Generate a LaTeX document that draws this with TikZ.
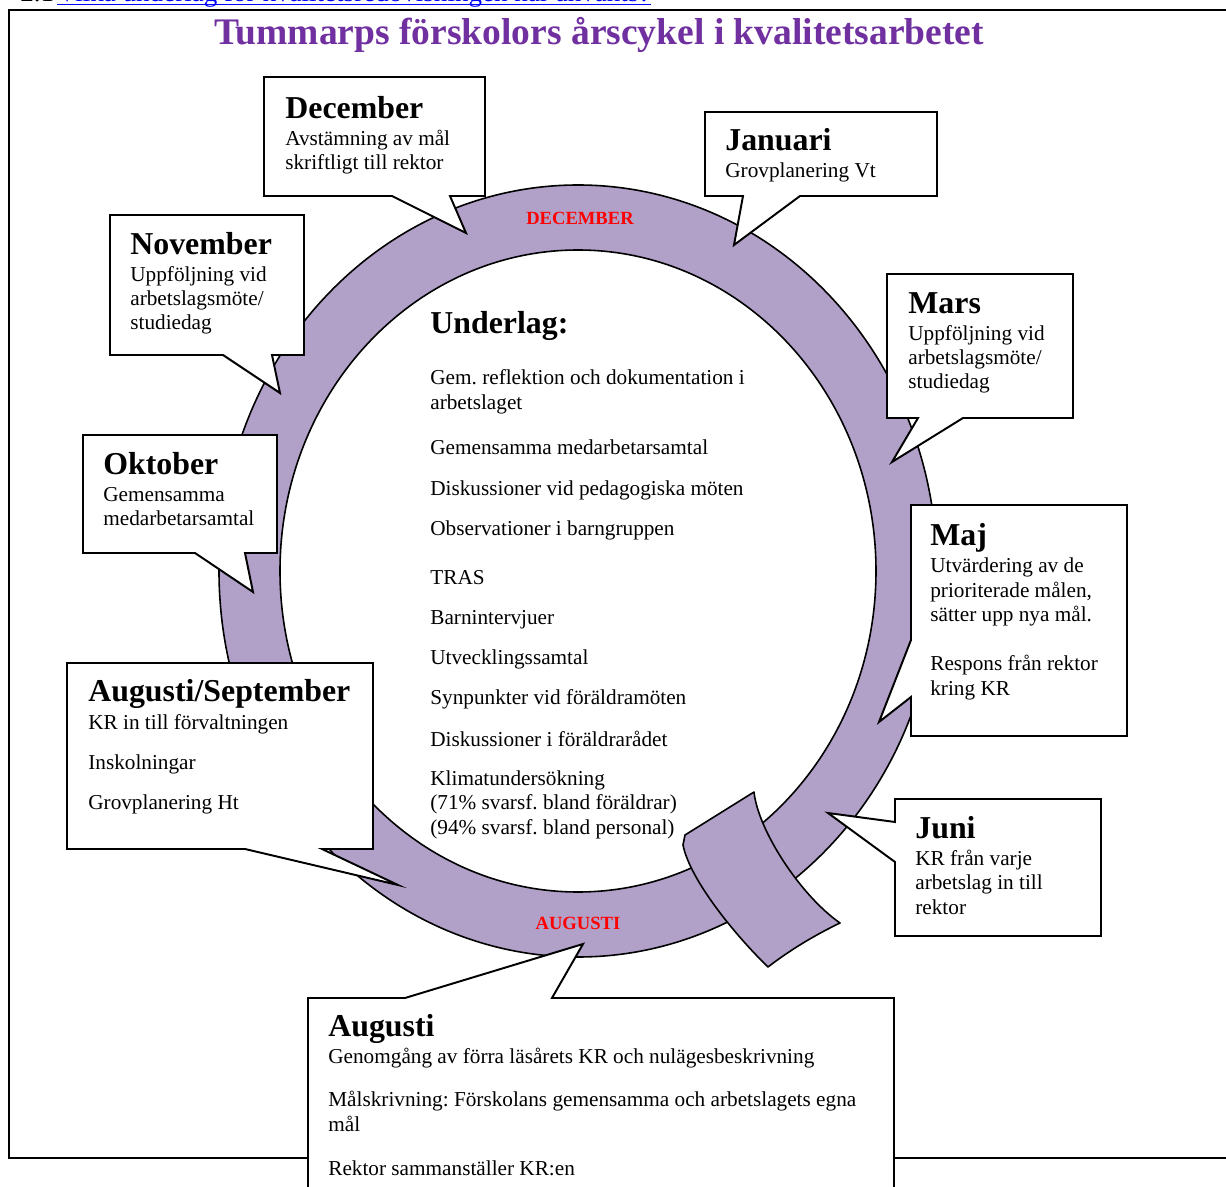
\documentclass[tikz,border=0pt]{standalone}
\usepackage{fontspec}
\setmainfont{Liberation Serif}
\frenchspacing
\definecolor{ringlila}{RGB}{177,160,199}
\definecolor{rubrik}{RGB}{112,48,160}
\definecolor{lank}{RGB}{0,0,255}
\tikzset{
  bubble/.style={draw=black, fill=white, line width=1.1pt, line join=miter},
  mtext/.style={anchor=base west, align=left, inner sep=0pt, font=\fontsize{12}{13.8}\selectfont},
  ringlabel/.style={anchor=base, inner sep=0pt, text=red, font=\fontsize{10.5}{12}\selectfont\bfseries},
}
\newcommand{\mhead}[1]{{\fontsize{18}{20}\selectfont\bfseries #1}}

\begin{document}
\begin{tikzpicture}[x=0.565pt, y=-0.565pt]
	\useasboundingbox (0,0) rectangle (1226,1187);
	% cut heading above the frame
	\node (num)  at (20,2) [anchor=base west, inner sep=0pt, font=\fontsize{15.3}{18}\selectfont] {2.1};
	\node (link) at (57,2) [anchor=base west, inner sep=0pt, text=lank, font=\fontsize{15.3}{18}\selectfont] {Vilka underlag för kvalitetsredovisningen har använts?};
	\draw[lank, line width=0.6pt] ([yshift=-1.6pt]link.base west) -- ([yshift=-1.6pt]link.base east);
	\draw[line width=1.1pt] (9,10) rectangle (1240,1158);

	% the year ring
	\fill[ringlila, even odd rule] (578,571) ellipse [x radius=359, y radius=386] (578,571) ellipse [x radius=298, y radius=321];
	\draw[line width=0.9pt] (578,571) ellipse [x radius=359, y radius=386];
	\draw[line width=0.9pt] (578,571) ellipse [x radius=298, y radius=321];
	\draw[fill=ringlila, line width=0.9pt, line join=round] (685,835) -- (754,792) .. controls (758,830) and (800,895) .. (840,923) .. controls (815,935) and (790,950) .. (768,967) .. controls (735,935) and (690,880) .. (683,845) -- cycle;
	\node (ldec) at (580,225) [ringlabel] {DECEMBER};
	\node (laug) at (578,929) [ringlabel] {AUGUSTI};

	% callouts
	\draw[bubble] (264,77) -- (485,77) -- (485,196) -- (450,196) -- (466,233) -- (392,196) -- (264,196) -- cycle;
	\draw[bubble] (705,112) -- (937,112) -- (937,196) -- (800,196) -- (734,245) -- (743,196) -- (705,196) -- cycle;
	\draw[bubble] (110,215) -- (304,215) -- (304,355) -- (272,355) -- (280,393) -- (223,355) -- (110,355) -- cycle;
	\draw[bubble] (887,274) -- (1073,274) -- (1073,418) -- (963,418) -- (892,462) -- (918,418) -- (887,418) -- cycle;
	\draw[bubble] (83,435) -- (277,435) -- (277,553) -- (245,553) -- (253,592) -- (195,553) -- (83,553) -- cycle;
	\draw[bubble] (911,505) -- (1127,505) -- (1127,736) -- (911,736) -- (911,697) -- (879,722) -- (911,640) -- cycle;
	\draw[bubble] (895,799) -- (1101,799) -- (1101,936) -- (895,936) -- (895,862) -- (828,813) -- (895,822) -- cycle;
	\draw[bubble] (67,663) -- (373,663) -- (373,849) -- (322,849) -- (398,885) -- (245,849) -- (67,849) -- cycle;
	\draw[bubble] (308,998) -- (405,998) -- (583,944) -- (552,998) -- (894,998) -- (894,1200) -- (308,1200) -- cycle;

	% texts, placed at the baseline of their last line
	\node (dec)    at (285,170)  [mtext] {\mhead{December}\\[1.5pt] Avstämning av mål\\ skriftligt till rektor};
	\node (jan)    at (725,178)  [mtext] {\mhead{Januari}\\[1.5pt] Grovplanering Vt};
	\node (nov)    at (130,330)  [mtext] {\mhead{November}\\[1.5pt] Uppföljning vid\\ arbetslagsmöte/\\ studiedag};
	\node (mar)    at (908,389)  [mtext] {\mhead{Mars}\\[1.5pt] Uppföljning vid\\ arbetslagsmöte/\\ studiedag};
	\node (okt)    at (103,526)  [mtext] {\mhead{Oktober}\\[1.5pt] Gemensamma\\ medarbetarsamtal};
	\node (maj)    at (930,695)  [mtext] {\mhead{Maj}\\[1.5pt] Utvärdering av de\\ prioriterade målen,\\ sätter upp nya mål.\\[13.8pt] Respons från rektor\\ kring KR};
	\node (jun)    at (915,914)  [mtext] {\mhead{Juni}\\[1.5pt] KR från varje\\ arbetslag in till\\ rektor};
	\node (augsep) at (88,809)   [mtext] {\mhead{Augusti/September}\\[1.5pt] KR in till förvaltningen\\[8.8pt] Inskolningar\\[8.8pt] Grovplanering Ht};
	\node (aug)    at (328,1175) [mtext] {\mhead{Augusti}\\[1.5pt] Genomgång av förra läsårets KR och nulägesbeskrivning\\[10.5pt] Målskrivning: Förskolans gemensamma och arbetslagets egna\\ mål\\[11pt] Rektor sammanställer KR:en};

	% inner list
	\node (underlag) at (430,834) [mtext] {\mhead{Underlag:}\\[15pt] Gem. reflektion och dokumentation i\\ arbetslaget\\[11.6pt] Gemensamma medarbetarsamtal\\[9.4pt] Diskussioner vid pedagogiska möten\\[8.8pt] Observationer i barngruppen\\[13.9pt] TRAS\\[8.8pt] Barnintervjuer\\[8.8pt] Utvecklingssamtal\\[8.8pt] Synpunkter vid föräldramöten\\[9.9pt] Diskussioner i föräldrarådet\\[8.2pt] Klimatundersökning\\ (71\% svarsf. bland föräldrar)\\ (94\% svarsf. bland personal)};

	\node (titel) at (599,45) [anchor=base, inner sep=0pt, text=rubrik, font=\fontsize{21.2}{24}\selectfont\bfseries] {Tummarps förskolors årscykel i kvalitetsarbetet};
\end{tikzpicture}
\end{document}
